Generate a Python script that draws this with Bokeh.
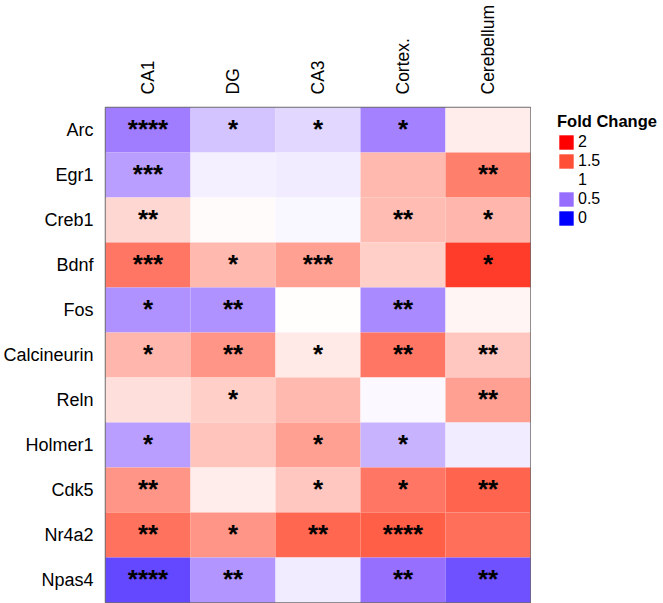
import numpy as np
from bokeh.plotting import figure
from bokeh.layouts import row
from bokeh.models import (ColumnDataSource, LinearColorMapper, Legend, LegendItem,
                          FactorRange, Range1d)
from bokeh.transform import transform
from bokeh.core.properties import value
from bokeh.embed import file_html
from bokeh.resources import INLINE

# Brain regions (columns) and genes (rows, top to bottom)
regions = ["CA1", "DG", "CA3", "Cortex.", "Cerebellum"]
genes = ["Arc", "Egr1", "Creb1", "Bdnf", "Fos", "Calcineurin",
         "Reln", "Holmer1", "Cdk5", "Nr4a2", "Npas4"]

# Fold change per region, in gene order
fold_ca1 = [0.55, 0.67, 1.11, 1.39, 0.62, 1.21, 1.09, 0.67, 1.30, 1.40, 0.33]
fold_dg = [0.79, 0.95, 1.01, 1.20, 0.62, 1.30, 1.14, 1.17, 1.05, 1.30, 0.64]
fold_ca3 = [0.86, 0.93, 0.97, 1.27, 1.00, 1.06, 1.20, 1.27, 1.16, 1.43, 0.93]
fold_cortex = [0.57, 1.20, 1.19, 1.14, 0.60, 1.39, 0.98, 0.74, 1.39, 1.46, 0.50]
fold_cerebellum = [1.05, 1.36, 1.21, 1.62, 1.03, 1.16, 1.27, 0.93, 1.44, 1.41, 0.37]

# Significance markers per region, in gene order
sig_ca1 = ["****", "***", "**", "***", "*", "*", "", "*", "**", "**", "****"]
sig_dg = ["*", "", "", "*", "**", "**", "*", "", "", "*", "**"]
sig_ca3 = ["*", "", "", "***", "", "*", "", "*", "*", "**", ""]
sig_cortex = ["*", "", "**", "", "**", "**", "", "*", "*", "****", "**"]
sig_cerebellum = ["", "**", "*", "*", "", "**", "**", "", "**", "", "**"]

# Colour scale for fold change
scale_breaks = [0, 0.5, 1, 1.5, 2]
scale_colors = ["#0000FF", "#966EFF", "#FFFFFF", "#FF5037", "#FF0000"]
legend_labels = ["2", "1.5", "1", "0.5", "0"]


def hex_to_rgb(h):
    h = h.lstrip("#")
    return [int(h[i:i + 2], 16) for i in (0, 2, 4)]


anchor_rgb = np.array([hex_to_rgb(c) for c in scale_colors], dtype=float)
steps = np.linspace(scale_breaks[0], scale_breaks[-1], 256)
palette = []
for s in steps:
    r, g, b = (np.interp(s, scale_breaks, anchor_rgb[:, k]) for k in range(3))
    palette.append("#%02x%02x%02x" % (int(round(r)), int(round(g)), int(round(b))))

mapper = LinearColorMapper(palette=palette, low=scale_breaks[0], high=scale_breaks[-1])

folds = [fold_ca1, fold_dg, fold_ca3, fold_cortex, fold_cerebellum]
sigs = [sig_ca1, sig_dg, sig_ca3, sig_cortex, sig_cerebellum]
xs, ys, vals, stars = [], [], [], []
for reg, fv, sv in zip(regions, folds, sigs):
    for g, v, s in zip(genes, fv, sv):
        xs.append(reg)
        ys.append(g)
        vals.append(v)
        stars.append(s)

source = ColumnDataSource(dict(region=xs, gene=ys, fold=vals, stars=stars))

# Heatmap
p = figure(width=531, height=603,
           x_range=FactorRange(*regions),
           y_range=FactorRange(*reversed(genes)),
           x_axis_location="above",
           output_backend="svg", toolbar_location=None,
           min_border_left=103, min_border_right=1,
           min_border_top=107, min_border_bottom=1)

p.rect(x="region", y="gene", width=1, height=1, source=source,
       fill_color=transform("fold", mapper), line_color=None)

p.text(x="region", y="gene", text="stars", source=source,
       text_align="center", text_baseline="middle",
       text_font=value("Liberation Sans"), text_font_style="bold",
       text_font_size="26px", text_color="black", y_offset=-1)

p.grid.visible = False
p.axis.axis_line_color = None
p.axis.major_tick_line_color = None
p.axis.minor_tick_line_color = None
p.axis.major_label_text_font = "Liberation Sans"
p.axis.major_label_text_color = "black"
p.yaxis.major_label_text_font_size = "18px"
p.yaxis.major_label_standoff = 6
p.xaxis.major_label_text_font_size = "17.5px"
p.xaxis.major_label_orientation = np.pi / 2
p.xaxis.major_label_standoff = 7

p.outline_line_color = "#6e6e6e"
p.outline_line_width = 1.5
p.background_fill_color = "white"
p.border_fill_color = "white"

# Legend panel beside the heatmap
lf = figure(width=132, height=603, x_range=Range1d(0, 1), y_range=Range1d(0, 1),
            output_backend="svg", toolbar_location=None,
            min_border=0)
lf.axis.visible = False
lf.grid.visible = False
lf.outline_line_color = None
lf.background_fill_color = "white"
lf.border_fill_color = "white"

# zero-size swatch renderers; only their legend entries show
items = []
for lab, col in zip(legend_labels, reversed(scale_colors)):
    r = lf.rect(x=[0], y=[0], width=0, height=0, fill_color=col, line_color=None)
    items.append(LegendItem(label=lab, renderers=[r]))

legend = Legend(items=items, location=(26, 375),
                title="Fold Change", title_text_font_style="bold",
                title_text_font="Liberation Sans", title_text_font_size="16.5px",
                title_standoff=2,
                label_text_font="Liberation Sans", label_text_font_size="16px",
                label_text_color="black", title_text_color="black",
                label_height=18, glyph_height=18, glyph_width=18,
                label_standoff=3, spacing=1, padding=6, margin=0,
                border_line_color=None, background_fill_alpha=0)
lf.add_layout(legend)

layout = row(p, lf)
open("out.html", "w").write(file_html(layout, INLINE))
